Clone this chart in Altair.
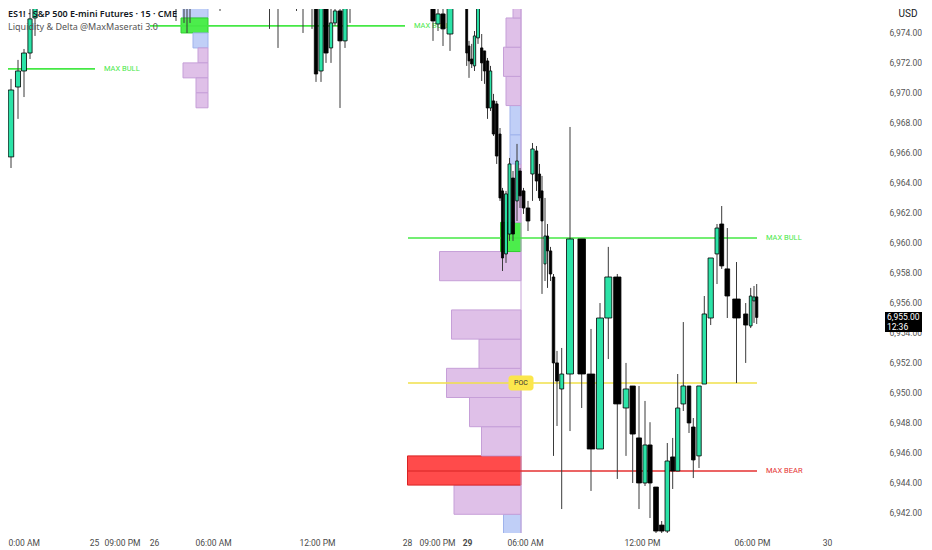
import json
import altair as alt
import pandas as pd

# ---------------- candles (slot = position on the compressed 15-min time axis) ----------------
slot = [-0.7, 0.6, 2.0, 3.2, 4.4, 5.4,
        33.6, 35.2, 35.8, 36.4, 42.4, 52.3, 54.0, 57.7, 59.0, 60.8, 61.6, 62.6, 63.6, 64.6, 65.4, 66.4, 67.4, 68.4,
        85.0, 86.0, 87.0, 88.4, 91.74, 92.2, 92.74, 93.3, 94.0, 94.74, 95.3, 95.9, 96.5, 97.1, 97.74, 98.4, 98.9,
        99.6, 100.3, 101.0, 101.8, 102.4, 103.1, 104.0, 104.9, 105.7, 106.3, 106.8, 107.4, 107.9, 108.5, 109.1,
        109.8, 110.74, 112.4, 114.74, 116.6, 118.4, 120.06, 121.86, 123.6, 124.94, 126.2, 127.4, 128.4, 129.6,
        130.74, 131.86, 132.94, 133.94, 135.06, 136.2, 137.06, 138.2, 139.26, 140.54, 141.8, 142.74, 143.86,
        145.7, 147.54, 148.54, 149.2, 149.74]
open_ = [6962.44, 6965.72, 6970.39, 6971.46, 6972.66, 6975.00,
         6977.50, 6977.00, 6975.80, 6977.00, 6977.50, 6976.50, 6975.94, 6976.50, 6975.74, 6977.00, 6976.50, 6971.46, 6976.30, 6973.00, 6974.67, 6975.47, 6973.47, 6975.94,
         6976.00, 6974.60, 6975.27, 6973.93, 6976.50, 6973.13, 6972.26, 6971.80, 6973.67, 6973.00, 6972.80, 6972.13, 6968.99, 6969.46, 6969.26, 6967.25, 6963.45,
         6959.24, 6960.57, 6964.31, 6962.78, 6964.78, 6963.45, 6962.31, 6964.58, 6966.12, 6964.58, 6963.45, 6958.57, 6960.44, 6959.44, 6957.70,
         6951.96, 6950.22, 6951.22, 6960.24, 6951.22, 6946.21, 6954.96, 6957.70, 6948.95, 6950.42, 6946.95, 6943.94, 6946.48, 6943.67,
         6941.13, 6940.73, 6945.68, 6944.74, 6949.22, 6950.42, 6947.68, 6945.75, 6950.55, 6954.96, 6959.24, 6961.24, 6958.24,
         6956.23, 6955.23, 6954.43, 6956.10, 6956.37]
high = [6966.99, 6970.93, 6972.20, 6972.93, 6975.80, 6977.00,
        6978.00, 6978.00, 6978.00, 6978.00, 6978.00, 6977.00, 6977.00, 6977.00, 6977.00, 6977.50, 6977.00, 6977.00, 6977.00, 6975.80, 6976.20, 6976.30, 6976.30, 6977.00,
        6976.50, 6976.00, 6975.80, 6976.50, 6977.00, 6973.47, 6973.27, 6974.13, 6976.10, 6973.93, 6972.80, 6972.33, 6971.80, 6969.93, 6969.46, 6967.65, 6963.65,
        6963.45, 6965.65, 6964.78, 6966.59, 6964.98, 6963.65, 6962.78, 6966.65, 6966.45, 6965.25, 6964.45, 6962.98, 6961.24, 6959.71, 6957.90,
        6952.76, 6952.96, 6967.72, 6960.24, 6954.23, 6955.96, 6959.71, 6957.90, 6951.96, 6950.42, 6950.42, 6949.42, 6948.00, 6943.67,
        6941.40, 6946.61, 6946.95, 6951.22, 6954.69, 6950.42, 6948.28, 6950.42, 6956.43, 6958.97, 6961.24, 6962.44, 6960.97,
        6958.70, 6955.96, 6956.97, 6957.10, 6957.23]
low = [6961.64, 6964.98, 6968.26, 6969.72, 6972.26, 6973.80,
       6974.80, 6974.67, 6974.00, 6974.67, 6975.47, 6974.27, 6973.00, 6975.47, 6974.00, 6974.27, 6970.73, 6970.73, 6972.00, 6972.00, 6974.47, 6968.99, 6973.00, 6974.67,
       6973.47, 6974.13, 6973.13, 6972.80, 6971.80, 6971.00, 6971.66, 6971.46, 6973.27, 6970.79, 6970.60, 6968.26, 6968.79, 6967.12, 6965.25, 6962.78, 6958.10,
       6958.64, 6960.11, 6960.11, 6961.44, 6962.31, 6961.91, 6960.77, 6962.78, 6963.45, 6962.78, 6956.57, 6957.43, 6956.97, 6957.43, 6945.75,
       6947.75, 6942.20, 6947.41, 6948.95, 6943.41, 6946.21, 6952.22, 6944.21, 6945.75, 6943.94, 6942.20, 6943.74, 6941.60, 6940.50,
       6940.50, 6940.50, 6943.54, 6944.74, 6948.75, 6947.28, 6944.27, 6944.94, 6950.55, 6954.49, 6957.23, 6958.24, 6954.96,
       6950.62, 6951.96, 6954.29, 6954.63, 6954.56]
close = [6965.72, 6970.19, 6971.46, 6972.66, 6974.94, 6976.60,
         6976.50, 6975.67, 6977.00, 6975.67, 6976.50, 6975.74, 6976.50, 6975.74, 6976.60, 6976.50, 6971.26, 6976.50, 6972.66, 6974.67, 6975.47, 6973.47, 6975.74, 6976.50,
         6974.80, 6975.27, 6974.27, 6976.20, 6972.66, 6972.13, 6971.93, 6973.80, 6975.67, 6972.00, 6971.46, 6968.99, 6971.46, 6967.25, 6965.78, 6962.98, 6958.97,
         6963.25, 6965.25, 6960.57, 6965.45, 6963.12, 6962.31, 6961.44, 6966.25, 6964.11, 6962.98, 6961.44, 6960.44, 6959.44, 6957.90, 6951.96,
         6950.75, 6951.22, 6960.24, 6951.22, 6946.21, 6954.96, 6957.70, 6949.22, 6950.22, 6947.21, 6943.94, 6946.48, 6943.94, 6940.73,
         6940.73, 6945.41, 6944.74, 6948.95, 6950.42, 6947.95, 6945.48, 6950.42, 6955.23, 6958.97, 6960.97, 6958.44, 6956.43,
         6954.96, 6954.49, 6956.43, 6956.37, 6955.00]

# ---------------- volume profiles ----------------
prof_anchor = [40.0] * 7 + [102.6] * 18
prof_lo = [6975.0, 6974.0, 6973.0, 6972.0, 6971.0, 6970.0, 6969.0,
           6939.9, 6941.85, 6943.8, 6945.75, 6947.7, 6949.65, 6951.6, 6953.55, 6957.45, 6959.4, 6961.35,
           6963.3, 6965.25, 6967.2, 6969.15, 6971.1, 6973.05, 6975.0]
prof_hi = [6976.1, 6975.0, 6974.0, 6973.0, 6972.0, 6971.0, 6970.0,
           6941.85, 6943.8, 6945.75, 6947.7, 6949.65, 6951.6, 6953.55, 6955.5, 6959.4, 6961.35, 6963.3,
           6965.25, 6967.2, 6969.15, 6971.1, 6973.05, 6975.0, 6976.95]
prof_vol = [5.0, 5.4, 3.0, 2.0, 5.0, 2.4, 2.4,
            3.5, 13.4, 22.7, 7.9, 10.3, 14.9, 8.4, 13.9, 16.3, 4.1, 1.2,
            1.2, 2.2, 2.2, 3.0, 3.5, 3.0, 1.6]
prof_kind = ["blue", "green", "blue", "pink", "pink", "pink", "pink",
             "blue", "pink", "red", "pink", "pink", "pink", "pink", "pink", "pink", "green", "pink",
             "pink", "blue", "blue", "pink", "pink", "pink", "pink"]

# ---------------- key levels ----------------
lvl_name = ["MAX BULL", "MAX BULL", "MAX BULL", "", "MAX BEAR"]
lvl_price = [6971.6, 6974.47, 6960.30, 6950.62, 6944.74]
lvl_t0 = [-1.6, 28.4, 80.0, 80.0, 80.0]
lvl_t1 = [17.4, 79.4, 149.8, 149.8, 149.8]
lvl_kind = ["bull", "bull", "bull", "poc", "bear"]
poc_slot = [102.6]
poc_price = [6950.62]

# ---------------- axis labels ----------------
tick_slots = [0.0, 17.2, 22.8, 29.2, 41.0, 61.8, 79.8, 85.8, 91.8, 103.4, 126.8, 148.8, 163.8]
tick_labels = ["0:00 AM", "25", "09:00 PM", "26", "06:00 AM", "12:00 PM", "28", "09:00 PM", "29",
               "06:00 AM", "12:00 PM", "06:00 PM", "30"]
price_ticks = list(range(6942, 6976, 2))
title_1 = "ES1! · S&P 500 E-mini Futures · 15 · CME"
title_2 = "Liquidity & Delta @MaxMaserati 3.0"
last_time_label = "12:36"

# ---------------- data frames ----------------
df = pd.DataFrame(dict(t=slot, o=open_, h=high, l=low, c=close))
gp = df.t.diff()
gn = -df.t.diff(-1)
gap = pd.concat([gp, gn], axis=1).min(axis=1).clip(upper=1.8)
df["x0"] = df.t - 0.42 * gap
df["x1"] = df.t + 0.42 * gap

prof = pd.DataFrame(dict(anchor=prof_anchor, lo=prof_lo, hi=prof_hi, vol=prof_vol, kind=prof_kind))
prof["left"] = prof.anchor - prof.vol
lv = pd.DataFrame(dict(name=lvl_name, price=lvl_price, t0=lvl_t0, t1=lvl_t1, kind=lvl_kind))
poc = pd.DataFrame(dict(t=poc_slot, p=poc_price))
poc["x0"] = poc.t - 2.5
poc["x1"] = poc.t + 2.5
poc["y0"] = poc.p - 0.5
poc["y1"] = poc.p + 0.5
poc["label"] = "POC"
last = pd.DataFrame(dict(p=[close[-1]]))
last["top"] = last.p + 0.36
last["bot"] = last.p - 0.97
last["txt"] = last.p.map(lambda v: f"{v:,.2f}")
last["tm"] = last_time_label
last["p2"] = last.p - 0.64

XS = alt.Scale(domain=[0, 170.8], nice=False, zero=False)
YS = alt.Scale(domain=[6940.6, 6975.6], nice=False, zero=False)
label_expr = f"{json.dumps(tick_labels)}[indexof({json.dumps(tick_slots)}, datum.value)]"
XA = alt.Axis(values=tick_slots, labelExpr=label_expr, title=None, grid=False, ticks=False, domain=False,
              labelFlush=False, labelOverlap=False, labelFont="Roboto", labelFontSize=8.5, labelColor="#4a4a4a",
              labelPadding=5,
              labelAlign={"condition": {"test": "datum.value == 0", "value": "left"}, "value": "center"},
              labelFontWeight={"condition": {"test": "datum.value == 91.8", "value": "bold"}, "value": "normal"})
YA = alt.Axis(orient="right", values=price_ticks, format=",.2f", title="USD", titleAngle=0, titleX=36, titleY=4,
              titleAlign="left", titleBaseline="middle", titleFont="Roboto", titleFontSize=10,
              titleFontWeight="normal", titleColor="#131722", grid=False, ticks=False, domain=False,
              labelFont="Roboto", labelFontSize=8.5, labelColor="#555555", labelPadding=27, labelFlush=False)

def X(f):
    return alt.X(f, type="quantitative", scale=XS, axis=XA)

def Y(f):
    return alt.Y(f, type="quantitative", scale=YS, axis=YA)

kind_fill = alt.Scale(domain=["pink", "blue", "green", "red"], range=["#dfc0e8", "#c0cff7", "#4ced4c", "#ff4b4b"])
kind_stroke = alt.Scale(domain=["pink", "blue", "green", "red"], range=["#c69fd8", "#9fb3ec", "#2fd02f", "#d92222"])
lvl_col = alt.Scale(domain=["bull", "poc", "bear"], range=["#45e845", "#f0e04a", "#e53030"])

prof_rect = alt.Chart(prof).mark_rect(strokeWidth=1, clip=True).encode(
    x=X("left"), x2="anchor", y=Y("lo"), y2="hi",
    fill=alt.Fill("kind:N", scale=kind_fill, legend=None),
    stroke=alt.Stroke("kind:N", scale=kind_stroke, legend=None))
prof_edge = alt.Chart(pd.DataFrame(dict(anchor=[prof_anchor[-1]]))).mark_rule(
    color="#c7a2d8", strokeWidth=1).encode(x=X("anchor"))

lvl_rule = alt.Chart(lv).mark_rule(strokeWidth=1.6, clip=True).encode(
    x=X("t0"), x2="t1", y=Y("price"), color=alt.Color("kind:N", scale=lvl_col, legend=None))
lvl_text = alt.Chart(lv).mark_text(align="left", baseline="middle", dx=9, fontSize=7.5, font="Roboto",
                                   clip=True).encode(
    x=X("t1"), y=Y("price"), text="name:N", color=alt.Color("kind:N", scale=lvl_col, legend=None))

wick = alt.Chart(df).mark_rule(color="#3a3a3a", strokeWidth=1, clip=True).encode(
    x=X("t"), y=Y("l"), y2="h")
body = alt.Chart(df).mark_rect(stroke="#000000", strokeWidth=0.8, clip=True).encode(
    x=X("x0"), x2="x1", y=Y("o"), y2="c",
    fill=alt.condition("datum.c >= datum.o", alt.value("#2be3a7"), alt.value("#000000")))

poc_box = alt.Chart(poc).mark_rect(color="#fbe64c", cornerRadius=3).encode(
    x=X("x0"), x2="x1", y=Y("y0"), y2="y1")
poc_txt = alt.Chart(poc).mark_text(fontSize=7, font="Roboto", color="#333333", baseline="middle").encode(
    x=X("t"), y=Y("p"), text="label:N")

title_df = pd.DataFrame(dict(t1=[title_1], t2=[title_2]))
title_a = alt.Chart(title_df).mark_text(align="left", baseline="middle", font="Noto Sans", fontSize=9,
                                        fontWeight=600, color="#131722").encode(
    x=alt.value(0), y=alt.value(5), text="t1:N")
title_b = alt.Chart(title_df).mark_text(align="left", baseline="middle", font="Noto Sans", fontSize=9,
                                        color="#555555").encode(
    x=alt.value(0), y=alt.value(18), text="t2:N")

tag = alt.Chart(last).mark_rect(color="#000000").encode(
    x=alt.value(877), x2=alt.value(914), y=Y("top"), y2="bot")
tag_t1 = alt.Chart(last).mark_text(align="left", baseline="middle", color="white", fontSize=8.5,
                                   font="Roboto").encode(x=alt.value(879), y=Y("p"), text="txt:N")
tag_t2 = alt.Chart(last).mark_text(align="left", baseline="middle", color="white", fontSize=8.5,
                                   font="Roboto").encode(x=alt.value(879), y=Y("p2"), text="tm:N")

chart = alt.layer(prof_rect, prof_edge, lvl_rule, lvl_text, wick, body, poc_box, poc_txt,
                  tag, tag_t1, tag_t2, title_a, title_b).properties(
    width=854, height=524, padding=0, background="white",
).configure_view(stroke=None, strokeWidth=0)

chart.save("out.html", embed_options={"renderer": "svg", "actions": False})
